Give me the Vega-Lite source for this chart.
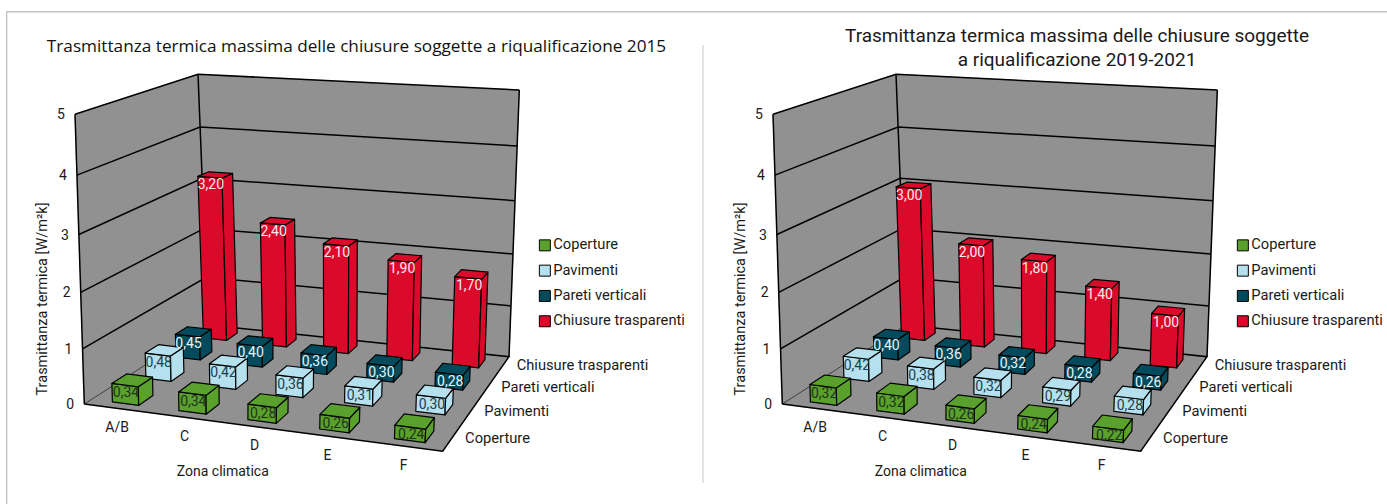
{
"$schema":"https://vega.github.io/schema/vega-lite/v6.json",
"width":1387,"height":504,"padding":0,"autosize":{"type":"none"},"background":"#ffffff",
"config":{"view":{"stroke":null},"text":{"font":"Roboto"},"legend":{"labelFont":"Roboto"}},
"datasets":{
"valori":[
{"pannello":"2015","serie":"Chiusure trasparenti","zona":"A/B","valore":3.2},
{"pannello":"2015","serie":"Chiusure trasparenti","zona":"C","valore":2.4},
{"pannello":"2015","serie":"Chiusure trasparenti","zona":"D","valore":2.1},
{"pannello":"2015","serie":"Chiusure trasparenti","zona":"E","valore":1.9},
{"pannello":"2015","serie":"Chiusure trasparenti","zona":"F","valore":1.7},
{"pannello":"2015","serie":"Pareti verticali","zona":"A/B","valore":0.45},
{"pannello":"2015","serie":"Pareti verticali","zona":"C","valore":0.40},
{"pannello":"2015","serie":"Pareti verticali","zona":"D","valore":0.36},
{"pannello":"2015","serie":"Pareti verticali","zona":"E","valore":0.30},
{"pannello":"2015","serie":"Pareti verticali","zona":"F","valore":0.28},
{"pannello":"2015","serie":"Pavimenti","zona":"A/B","valore":0.48},
{"pannello":"2015","serie":"Pavimenti","zona":"C","valore":0.42},
{"pannello":"2015","serie":"Pavimenti","zona":"D","valore":0.36},
{"pannello":"2015","serie":"Pavimenti","zona":"E","valore":0.31},
{"pannello":"2015","serie":"Pavimenti","zona":"F","valore":0.30},
{"pannello":"2015","serie":"Coperture","zona":"A/B","valore":0.34},
{"pannello":"2015","serie":"Coperture","zona":"C","valore":0.34},
{"pannello":"2015","serie":"Coperture","zona":"D","valore":0.28},
{"pannello":"2015","serie":"Coperture","zona":"E","valore":0.26},
{"pannello":"2015","serie":"Coperture","zona":"F","valore":0.24},
{"pannello":"2019-2021","serie":"Chiusure trasparenti","zona":"A/B","valore":3.0},
{"pannello":"2019-2021","serie":"Chiusure trasparenti","zona":"C","valore":2.0},
{"pannello":"2019-2021","serie":"Chiusure trasparenti","zona":"D","valore":1.8},
{"pannello":"2019-2021","serie":"Chiusure trasparenti","zona":"E","valore":1.4},
{"pannello":"2019-2021","serie":"Chiusure trasparenti","zona":"F","valore":1.0},
{"pannello":"2019-2021","serie":"Pareti verticali","zona":"A/B","valore":0.40},
{"pannello":"2019-2021","serie":"Pareti verticali","zona":"C","valore":0.36},
{"pannello":"2019-2021","serie":"Pareti verticali","zona":"D","valore":0.32},
{"pannello":"2019-2021","serie":"Pareti verticali","zona":"E","valore":0.28},
{"pannello":"2019-2021","serie":"Pareti verticali","zona":"F","valore":0.26},
{"pannello":"2019-2021","serie":"Pavimenti","zona":"A/B","valore":0.42},
{"pannello":"2019-2021","serie":"Pavimenti","zona":"C","valore":0.38},
{"pannello":"2019-2021","serie":"Pavimenti","zona":"D","valore":0.32},
{"pannello":"2019-2021","serie":"Pavimenti","zona":"E","valore":0.29},
{"pannello":"2019-2021","serie":"Pavimenti","zona":"F","valore":0.28},
{"pannello":"2019-2021","serie":"Coperture","zona":"A/B","valore":0.32},
{"pannello":"2019-2021","serie":"Coperture","zona":"C","valore":0.32},
{"pannello":"2019-2021","serie":"Coperture","zona":"D","valore":0.26},
{"pannello":"2019-2021","serie":"Coperture","zona":"E","valore":0.24},
{"pannello":"2019-2021","serie":"Coperture","zona":"F","valore":0.22}
],
"pannelli":[{"pannello":"2015"},{"pannello":"2019-2021"}]
},
"encoding":{
"x":{"field":"px","type":"quantitative","scale":{"domain":[0,1387],"range":[0,1387],"nice":false,"zero":false},"axis":null},
"y":{"field":"py","type":"quantitative","scale":{"domain":[0,504],"range":[0,504],"nice":false,"zero":false},"axis":null}
},
"layer":[
{"data":{"values":[{"tratto":"cornice"},{"tratto":"divisore"}]},
"transform":[
{"calculate":"datum.tratto=='cornice'?[{c:0,a:1387,b:11.7},{c:1,a:6.7,b:11.7},{c:2,a:6.7,b:504}]:[{c:0,a:703,b:45},{c:1,a:703,b:483}]","as":"p"},
{"flatten":["p"]},
{"calculate":"datum.p.a","as":"px"},{"calculate":"datum.p.b","as":"py"},{"calculate":"datum.p.c","as":"c"},
{"calculate":"datum.tratto=='cornice'?1.4:1.6","as":"sw"}
],
"mark":{"type":"line"},
"encoding":{"detail":{"field":"tratto"},"order":{"field":"c","type":"quantitative"},"strokeWidth":{"field":"sw","type":"quantitative","scale":null,"legend":null},"stroke":{"field":"tratto","type":"nominal","scale":{"domain":["cornice","divisore"],"range":["#c4c4c4","#dedede"]},"legend":null}}},
{"data":{"name":"pannelli"},
"transform":[
{"calculate":"[{k:'L',c:0,u:0,v:0,h:0},{k:'L',c:1,u:0,v:1,h:0},{k:'L',c:2,u:0,v:1,h:5},{k:'L',c:3,u:0,v:0,h:5},{k:'B',c:0,u:0,v:1,h:0},{k:'B',c:1,u:1,v:1,h:0},{k:'B',c:2,u:1,v:1,h:5},{k:'B',c:3,u:0,v:1,h:5},{k:'F',c:0,u:0,v:0,h:0},{k:'F',c:1,u:1,v:0,h:0},{k:'F',c:2,u:1,v:1,h:0},{k:'F',c:3,u:0,v:1,h:0}]","as":"p"},
{"flatten":["p"]},
{"calculate":"datum.p.u","as":"u"},{"calculate":"datum.p.v","as":"v"},{"calculate":"datum.p.h","as":"h"},
{"calculate":"datum.pannello+datum.p.k","as":"chiave"},{"calculate":"datum.p.c","as":"c"},
{"calculate":"1-0.09406*datum.u+0.21142*datum.v","as":"w"},
{"calculate":"datum.h/(1-0.012*datum.h)/5.319","as":"s"},
{"calculate":"(84.3+316.76*datum.u+167.68*datum.v)/datum.w+datum.s*((1-datum.u)*(1-datum.v)*(-9.3)+datum.u*(1-datum.v)*13+datum.u*datum.v*10.3+(1-datum.u)*datum.v*(-10))+(datum.pannello=='2015'?0:698)","as":"px"},
{"calculate":"(404+4.85*datum.u-10.29*datum.v)/datum.w+datum.s*((1-datum.u)*(1-datum.v)*(-289.7)+datum.u*(1-datum.v)*(-305)+datum.u*datum.v*(-266.7)+(1-datum.u)*datum.v*(-250.7))","as":"py"}
],
"mark":{"type":"line","interpolate":"linear-closed","fill":"#919191","stroke":"#919191","strokeWidth":0.5},
"encoding":{"detail":{"field":"chiave"},"order":{"field":"c","type":"quantitative"}}},
{"data":{"name":"pannelli"},
"transform":[
{"calculate":"[{k:'g1',c:0,u:0,v:0,h:1},{k:'g1',c:1,u:0,v:1,h:1},{k:'g1',c:2,u:1,v:1,h:1},{k:'g2',c:0,u:0,v:0,h:2},{k:'g2',c:1,u:0,v:1,h:2},{k:'g2',c:2,u:1,v:1,h:2},{k:'g3',c:0,u:0,v:0,h:3},{k:'g3',c:1,u:0,v:1,h:3},{k:'g3',c:2,u:1,v:1,h:3},{k:'g4',c:0,u:0,v:0,h:4},{k:'g4',c:1,u:0,v:1,h:4},{k:'g4',c:2,u:1,v:1,h:4},{k:'g5',c:0,u:0,v:0,h:5},{k:'g5',c:1,u:0,v:1,h:5},{k:'g5',c:2,u:1,v:1,h:5},{k:'a',c:0,u:0,v:0,h:0},{k:'a',c:1,u:0,v:0,h:5},{k:'b',c:0,u:0,v:1,h:0},{k:'b',c:1,u:0,v:1,h:5},{k:'d',c:0,u:1,v:1,h:0},{k:'d',c:1,u:1,v:1,h:5},{k:'e',c:0,u:0,v:0,h:0},{k:'e',c:1,u:1,v:0,h:0},{k:'e',c:2,u:1,v:1,h:0},{k:'e',c:3,u:0,v:1,h:0},{k:'s',c:0,u:0,v:0,h:0},{k:'s',c:1,u:0,v:1,h:0}]","as":"p"},
{"flatten":["p"]},
{"calculate":"datum.p.u","as":"u"},{"calculate":"datum.p.v","as":"v"},{"calculate":"datum.p.h","as":"h"},
{"calculate":"datum.pannello+datum.p.k","as":"chiave"},{"calculate":"datum.p.c","as":"c"},
{"calculate":"datum.p.k=='s'?0.6:1.5","as":"sw"},
{"calculate":"1-0.09406*datum.u+0.21142*datum.v","as":"w"},
{"calculate":"datum.h/(1-0.012*datum.h)/5.319","as":"s"},
{"calculate":"(84.3+316.76*datum.u+167.68*datum.v)/datum.w+datum.s*((1-datum.u)*(1-datum.v)*(-9.3)+datum.u*(1-datum.v)*13+datum.u*datum.v*10.3+(1-datum.u)*datum.v*(-10))+(datum.pannello=='2015'?0:698)","as":"px"},
{"calculate":"(404+4.85*datum.u-10.29*datum.v)/datum.w+datum.s*((1-datum.u)*(1-datum.v)*(-289.7)+datum.u*(1-datum.v)*(-305)+datum.u*datum.v*(-266.7)+(1-datum.u)*datum.v*(-250.7))","as":"py"}
],
"mark":{"type":"line","stroke":"#000000"},
"encoding":{"detail":{"field":"chiave"},"order":{"field":"c","type":"quantitative"},"strokeWidth":{"field":"sw","type":"quantitative","scale":null,"legend":null}}},
{"data":{"name":"valori"},
"transform":[
{"filter":"datum.pannello=='2015'"},
{"calculate":"indexof(['A/B','C','D','E','F'],datum.zona)","as":"zi"},
{"calculate":"indexof(['Coperture','Pavimenti','Pareti verticali','Chiusure trasparenti'],datum.serie)","as":"si"},
{"calculate":"0.05+0.26*datum.si","as":"vF"},{"calculate":"datum.vF+0.105","as":"vB"},
{"calculate":"0.065+0.2*datum.zi-datum.vF*(0.016*(1-0.2*datum.zi)+0.006)","as":"uL"},{"calculate":"datum.uL+0.08","as":"uR"},
{"calculate":"[{f:0,c:0,u:datum.uL,v:datum.vF,h:0},{f:0,c:1,u:datum.uR,v:datum.vF,h:0},{f:0,c:2,u:datum.uR,v:datum.vF,h:datum.valore},{f:0,c:3,u:datum.uL,v:datum.vF,h:datum.valore},{f:1,c:0,u:datum.uR,v:datum.vF,h:0},{f:1,c:1,u:datum.uR,v:datum.vB,h:0},{f:1,c:2,u:datum.uR,v:datum.vB,h:datum.valore},{f:1,c:3,u:datum.uR,v:datum.vF,h:datum.valore},{f:2,c:0,u:datum.uL,v:datum.vF,h:datum.valore},{f:2,c:1,u:datum.uR,v:datum.vF,h:datum.valore},{f:2,c:2,u:datum.uR,v:datum.vB,h:datum.valore},{f:2,c:3,u:datum.uL,v:datum.vB,h:datum.valore}]","as":"p"},
{"flatten":["p"]},
{"calculate":"datum.p.u","as":"u"},{"calculate":"datum.p.v","as":"v"},{"calculate":"datum.p.h","as":"h"},{"calculate":"datum.p.c","as":"c"},
{"calculate":"datum.serie+datum.zona+datum.p.f","as":"chiave"},
{"calculate":"1-0.09406*datum.u+0.21142*datum.v","as":"w"},
{"calculate":"datum.h/(1-0.012*datum.h)/5.319","as":"s"},
{"calculate":"(84.3+316.76*datum.u+167.68*datum.v)/datum.w+datum.s*((1-datum.u)*(1-datum.v)*(-9.3)+datum.u*(1-datum.v)*13+datum.u*datum.v*10.3+(1-datum.u)*datum.v*(-10))","as":"px"},
{"calculate":"(404+4.85*datum.u-10.29*datum.v)/datum.w+datum.s*((1-datum.u)*(1-datum.v)*(-289.7)+datum.u*(1-datum.v)*(-305)+datum.u*datum.v*(-266.7)+(1-datum.u)*datum.v*(-250.7))","as":"py"}
],
"mark":{"type":"line","interpolate":"linear-closed","stroke":"#000000","strokeWidth":1.2,"strokeJoin":"round"},
"encoding":{"detail":{"field":"chiave"},"order":{"field":"c","type":"quantitative"},
"fill":{"field":"serie","type":"nominal","scale":{"domain":["Coperture","Pavimenti","Pareti verticali","Chiusure trasparenti"],"range":["#5aa02c","#b5e0ee","#034a5c","#db0a2b"]},
"legend":{"title":null,"orient":"none","legendX":537.5,"legendY":238,"symbolType":"square","symbolSize":121,"symbolStrokeColor":"#000000","symbolStrokeWidth":1,"labelFontSize":14.7,"labelColor":"#1a1a1a","labelFont":"Roboto","rowPadding":9.3,"labelOffset":1,"symbolOpacity":1}}}},
{"data":{"name":"valori"},
"transform":[
{"filter":"datum.pannello!='2015'"},
{"calculate":"indexof(['A/B','C','D','E','F'],datum.zona)","as":"zi"},
{"calculate":"indexof(['Coperture','Pavimenti','Pareti verticali','Chiusure trasparenti'],datum.serie)","as":"si"},
{"calculate":"0.05+0.26*datum.si","as":"vF"},{"calculate":"datum.vF+0.105","as":"vB"},
{"calculate":"0.065+0.2*datum.zi-datum.vF*(0.016*(1-0.2*datum.zi)+0.006)","as":"uL"},{"calculate":"datum.uL+0.08","as":"uR"},
{"calculate":"[{f:0,c:0,u:datum.uL,v:datum.vF,h:0},{f:0,c:1,u:datum.uR,v:datum.vF,h:0},{f:0,c:2,u:datum.uR,v:datum.vF,h:datum.valore},{f:0,c:3,u:datum.uL,v:datum.vF,h:datum.valore},{f:1,c:0,u:datum.uR,v:datum.vF,h:0},{f:1,c:1,u:datum.uR,v:datum.vB,h:0},{f:1,c:2,u:datum.uR,v:datum.vB,h:datum.valore},{f:1,c:3,u:datum.uR,v:datum.vF,h:datum.valore},{f:2,c:0,u:datum.uL,v:datum.vF,h:datum.valore},{f:2,c:1,u:datum.uR,v:datum.vF,h:datum.valore},{f:2,c:2,u:datum.uR,v:datum.vB,h:datum.valore},{f:2,c:3,u:datum.uL,v:datum.vB,h:datum.valore}]","as":"p"},
{"flatten":["p"]},
{"calculate":"datum.p.u","as":"u"},{"calculate":"datum.p.v","as":"v"},{"calculate":"datum.p.h","as":"h"},{"calculate":"datum.p.c","as":"c"},
{"calculate":"datum.serie+datum.zona+datum.p.f","as":"chiave"},
{"calculate":"1-0.09406*datum.u+0.21142*datum.v","as":"w"},
{"calculate":"datum.h/(1-0.012*datum.h)/5.319","as":"s"},
{"calculate":"698+(84.3+316.76*datum.u+167.68*datum.v)/datum.w+datum.s*((1-datum.u)*(1-datum.v)*(-9.3)+datum.u*(1-datum.v)*13+datum.u*datum.v*10.3+(1-datum.u)*datum.v*(-10))","as":"px"},
{"calculate":"(404+4.85*datum.u-10.29*datum.v)/datum.w+datum.s*((1-datum.u)*(1-datum.v)*(-289.7)+datum.u*(1-datum.v)*(-305)+datum.u*datum.v*(-266.7)+(1-datum.u)*datum.v*(-250.7))","as":"py"}
],
"mark":{"type":"line","interpolate":"linear-closed","stroke":"#000000","strokeWidth":1.2,"strokeJoin":"round"},
"encoding":{"detail":{"field":"chiave"},"order":{"field":"c","type":"quantitative"},
"fill":{"field":"serie","type":"nominal","scale":{"domain":["Coperture","Pavimenti","Pareti verticali","Chiusure trasparenti"],"range":["#5aa02c","#b5e0ee","#034a5c","#db0a2b"]},
"legend":{"title":null,"orient":"none","legendX":1235.5,"legendY":238,"symbolType":"square","symbolSize":121,"symbolStrokeColor":"#000000","symbolStrokeWidth":1,"labelFontSize":14.7,"labelColor":"#1a1a1a","labelFont":"Roboto","rowPadding":9.3,"labelOffset":1,"symbolOpacity":1}}}},
{"data":{"name":"valori"},
"transform":[
{"calculate":"indexof(['A/B','C','D','E','F'],datum.zona)","as":"zi"},
{"calculate":"indexof(['Coperture','Pavimenti','Pareti verticali','Chiusure trasparenti'],datum.serie)","as":"si"},
{"calculate":"0.05+0.26*datum.si","as":"v"},
{"calculate":"0.105+0.2*datum.zi-datum.v*(0.016*(1-0.2*datum.zi)+0.006)","as":"u"},
{"calculate":"datum.valore","as":"h"},
{"calculate":"replace(format(datum.valore,'.2f'),'.',',')","as":"etichetta"},
{"calculate":"1-0.09406*datum.u+0.21142*datum.v","as":"w"},
{"calculate":"datum.h/(1-0.012*datum.h)/5.319","as":"s"},
{"calculate":"(84.3+316.76*datum.u+167.68*datum.v)/datum.w+datum.s*((1-datum.u)*(1-datum.v)*(-9.3)+datum.u*(1-datum.v)*13+datum.u*datum.v*10.3+(1-datum.u)*datum.v*(-10))+(datum.pannello=='2015'?0:698)","as":"px"},
{"calculate":"(404+4.85*datum.u-10.29*datum.v)/datum.w+datum.s*((1-datum.u)*(1-datum.v)*(-289.7)+datum.u*(1-datum.v)*(-305)+datum.u*datum.v*(-266.7)+(1-datum.u)*datum.v*(-250.7))","as":"py"}
],
"mark":{"type":"text","fontSize":14,"dy":8,"dx":1,"baseline":"middle"},
"encoding":{"text":{"field":"etichetta"},
"color":{"field":"serie","type":"nominal","scale":{"domain":["Coperture","Pavimenti","Pareti verticali","Chiusure trasparenti"],"range":["#20341a","#20404d","#e8f4f8","#fde8ea"]},"legend":null}}},
{"data":{"name":"pannelli"},
"transform":[
{"calculate":"[{t:'A/B',u:0.1,v:0,h:0,ox:0,oy:20},{t:'C',u:0.3,v:0,h:0,ox:0,oy:20},{t:'D',u:0.5,v:0,h:0,ox:0,oy:20},{t:'E',u:0.7,v:0,h:0,ox:0,oy:20},{t:'F',u:0.9,v:0,h:0,ox:0,oy:20},{t:'Zona climatica',u:0.41,v:0,h:0,ox:0,oy:50},{t:'0',u:0,v:0,h:0,ox:-14,oy:1},{t:'1',u:0,v:0,h:1,ox:-14,oy:1},{t:'2',u:0,v:0,h:2,ox:-14,oy:1},{t:'3',u:0,v:0,h:3,ox:-14,oy:1},{t:'4',u:0,v:0,h:4,ox:-14,oy:1},{t:'5',u:0,v:0,h:5,ox:-14,oy:1}]","as":"p"},
{"flatten":["p"]},
{"calculate":"datum.p.u","as":"u"},{"calculate":"datum.p.v","as":"v"},{"calculate":"datum.p.h","as":"h"},{"calculate":"datum.p.t","as":"testo"},
{"calculate":"1-0.09406*datum.u+0.21142*datum.v","as":"w"},
{"calculate":"datum.h/(1-0.012*datum.h)/5.319","as":"s"},
{"calculate":"datum.p.ox+(84.3+316.76*datum.u+167.68*datum.v)/datum.w+datum.s*((1-datum.u)*(1-datum.v)*(-9.3)+datum.u*(1-datum.v)*13+datum.u*datum.v*10.3+(1-datum.u)*datum.v*(-10))+(datum.pannello=='2015'?0:698)","as":"px"},
{"calculate":"datum.p.oy+(404+4.85*datum.u-10.29*datum.v)/datum.w+datum.s*((1-datum.u)*(1-datum.v)*(-289.7)+datum.u*(1-datum.v)*(-305)+datum.u*datum.v*(-266.7)+(1-datum.u)*datum.v*(-250.7))","as":"py"}
],
"mark":{"type":"text","fontSize":14,"baseline":"middle","color":"#1a1a1a"},
"encoding":{"text":{"field":"testo"}}},
{"data":{"name":"pannelli"},
"transform":[
{"calculate":"[{t:'Coperture',v:0.105},{t:'Pavimenti',v:0.365},{t:'Pareti verticali',v:0.625},{t:'Chiusure trasparenti',v:0.885}]","as":"p"},
{"flatten":["p"]},
{"calculate":"1","as":"u"},{"calculate":"datum.p.v","as":"v"},{"calculate":"datum.p.t","as":"testo"},
{"calculate":"1-0.09406*datum.u+0.21142*datum.v","as":"w"},
{"calculate":"(84.3+316.76*datum.u+167.68*datum.v)/datum.w+(datum.pannello=='2015'?0:698)","as":"px"},
{"calculate":"(404+4.85*datum.u-10.29*datum.v)/datum.w","as":"py"}
],
"mark":{"type":"text","fontSize":14.7,"baseline":"middle","align":"left","dx":14,"color":"#1a1a1a"},
"encoding":{"text":{"field":"testo"}}},
{"data":{"name":"pannelli"},
"transform":[
{"calculate":"'Trasmittanza termica [W/m²k]'","as":"testo"},
{"calculate":"42.7+(datum.pannello=='2015'?0:698)","as":"px"},
{"calculate":"299","as":"py"}
],
"mark":{"type":"text","fontSize":14.5,"baseline":"middle","angle":270,"color":"#1a1a1a"},
"encoding":{"text":{"field":"testo"}}},
{"data":{"name":"pannelli"},
"transform":[
{"filter":"datum.pannello=='2015'"},
{"calculate":"'Trasmittanza termica massima delle chiusure soggette a riqualificazione 2015'","as":"testo"},
{"calculate":"356.5","as":"px"},{"calculate":"47","as":"py"}
],
"mark":{"type":"text","font":"Open Sans","fontSize":17.2,"baseline":"middle","color":"#111111"},
"encoding":{"text":{"field":"testo"}}},
{"data":{"name":"pannelli"},
"transform":[
{"filter":"datum.pannello!='2015'"},
{"calculate":"['Trasmittanza termica massima delle chiusure soggette','a riqualificazione 2019-2021']","as":"testo"},
{"calculate":"1077","as":"px"},{"calculate":"36","as":"py"}
],
"mark":{"type":"text","fontSize":19,"baseline":"middle","lineHeight":24,"color":"#1a1a1a"},
"encoding":{"text":{"field":"testo"}}}
],
"resolve":{"scale":{"fill":"independent"},"legend":{"fill":"independent"}}
}
